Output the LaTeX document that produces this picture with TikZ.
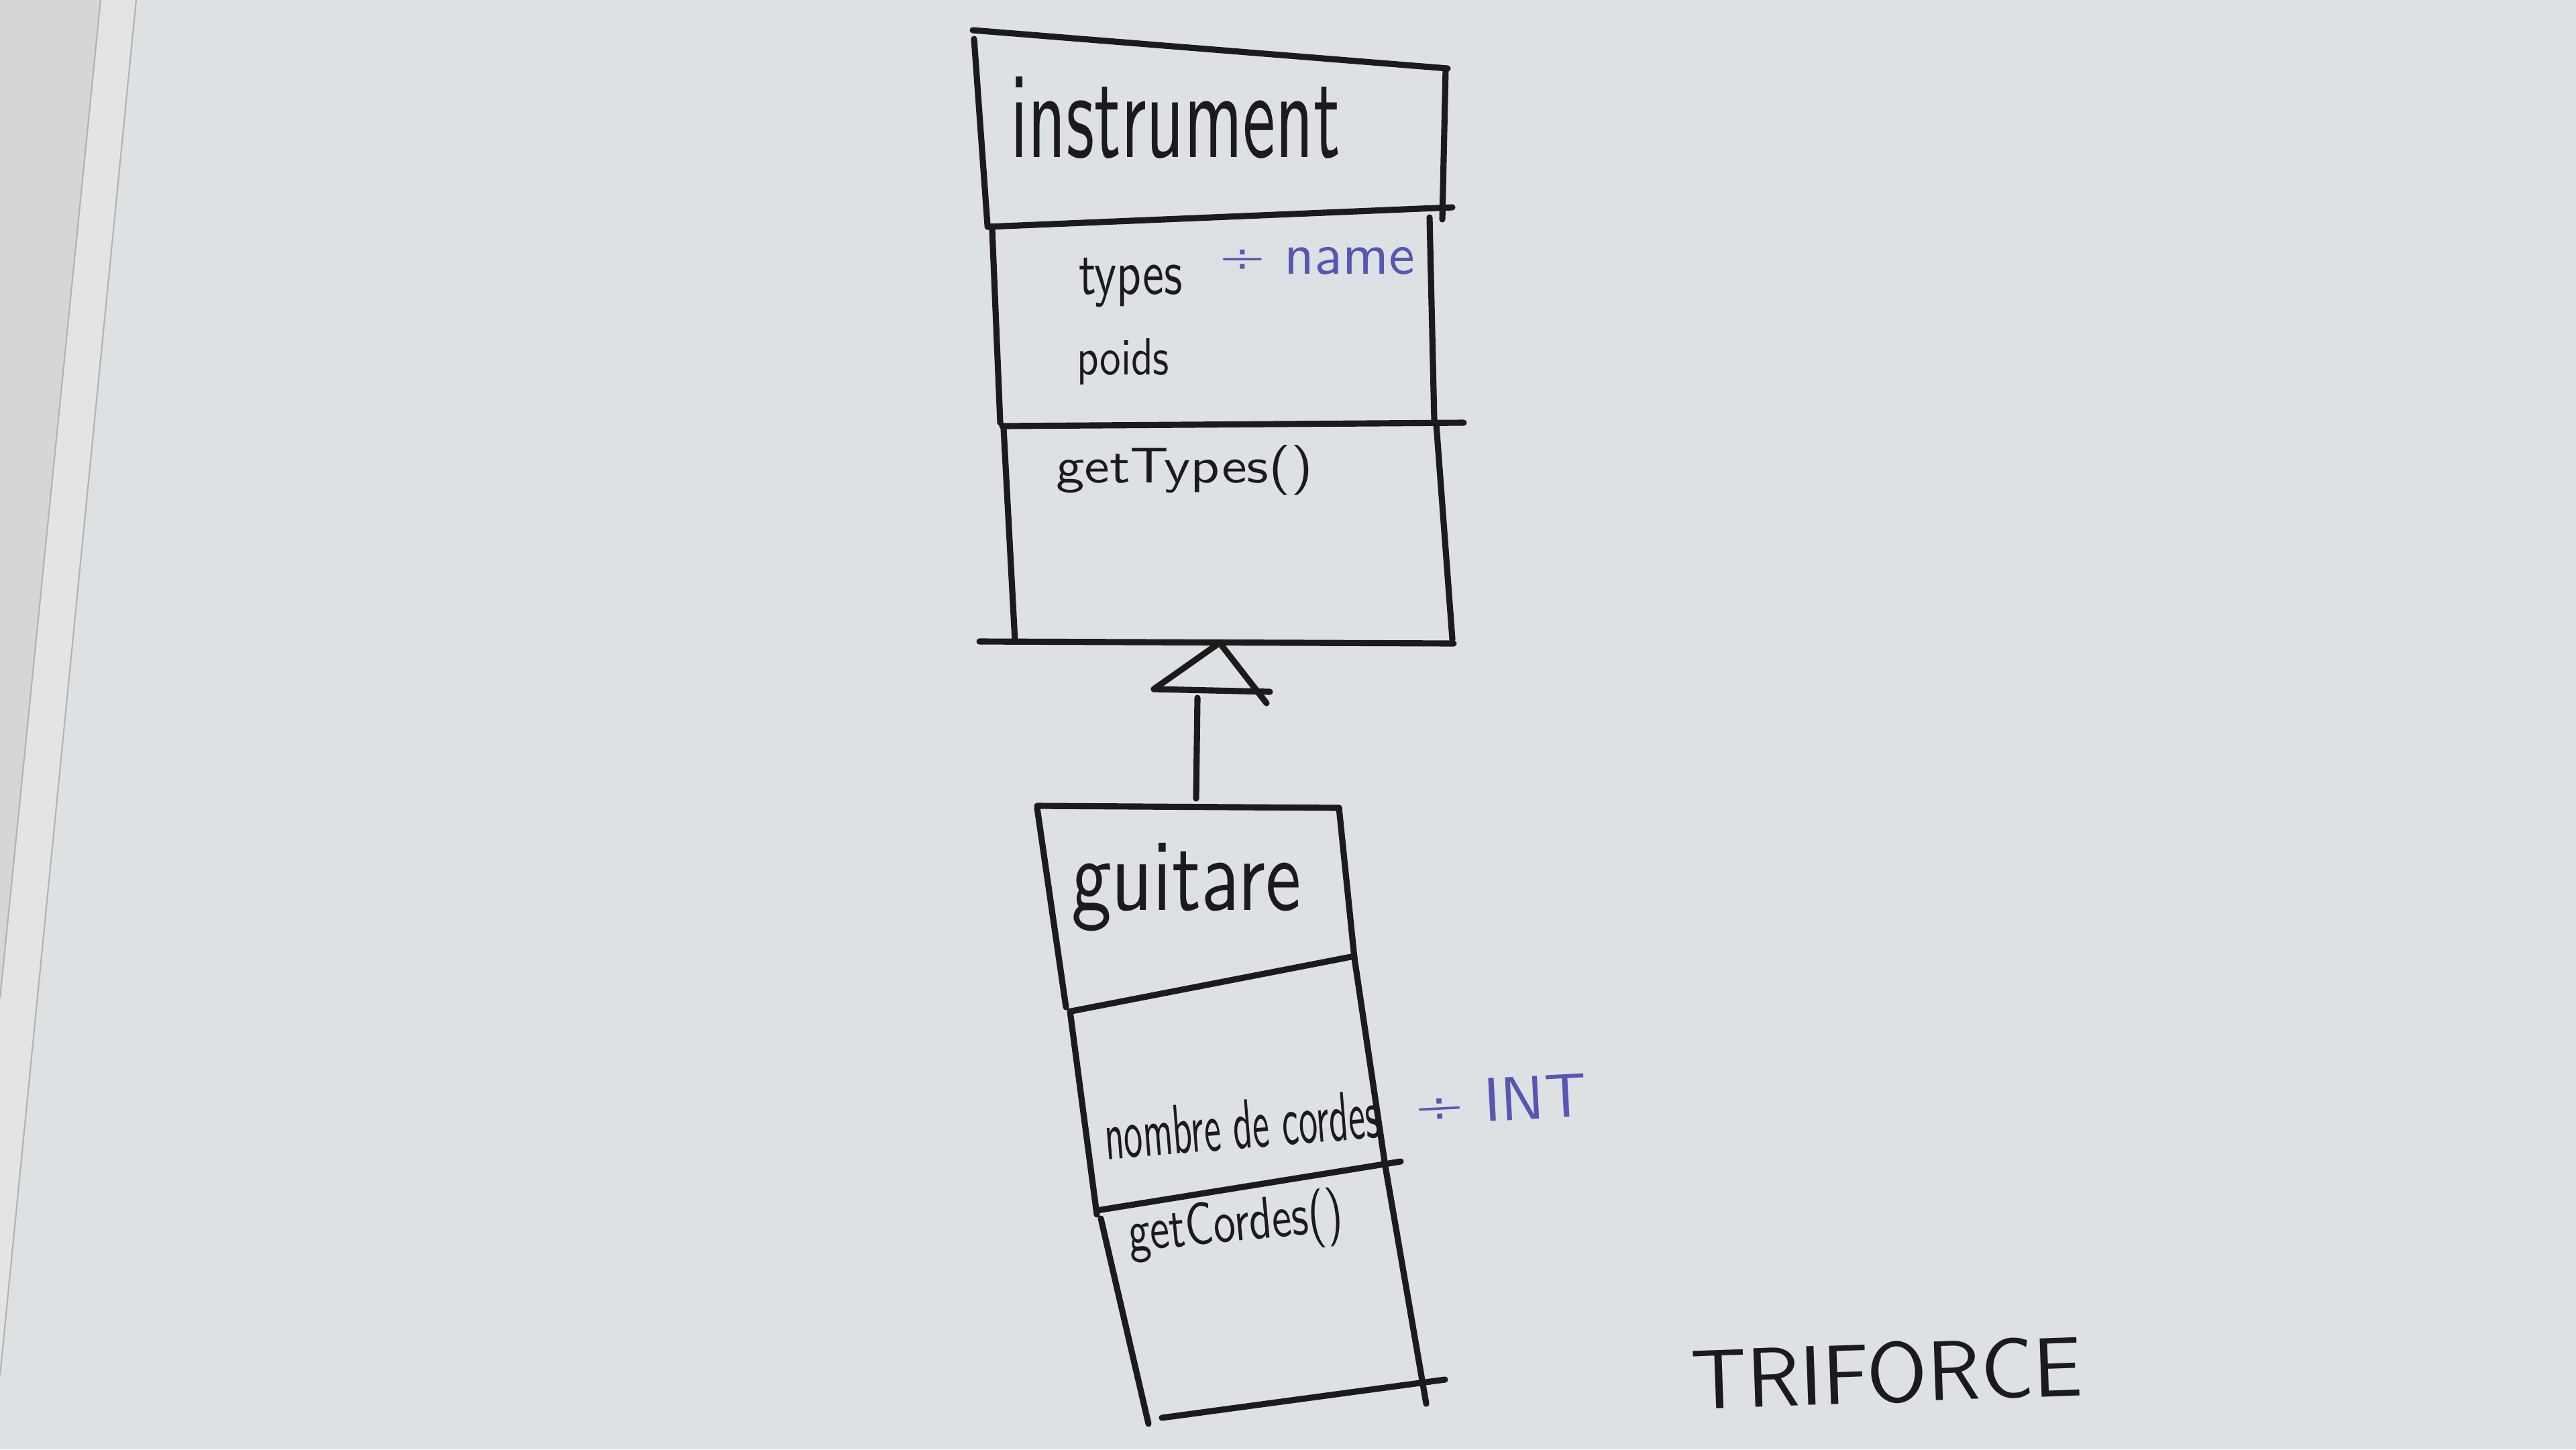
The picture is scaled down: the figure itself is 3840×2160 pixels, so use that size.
\documentclass[tikz,border=0pt]{standalone}
\usepackage{fontspec}
\usepackage{graphicx}
\definecolor{board}{RGB}{222,225,227}
\definecolor{leftc}{RGB}{214,214,212}
\definecolor{stripc}{RGB}{228,229,226}
\definecolor{inkc}{RGB}{28,26,28}
\definecolor{bluec}{RGB}{88,86,178}
\newcommand{\hw}[3]{\resizebox{#1}{#2}{#3}}
\begin{document}
\begin{tikzpicture}[x=0.01cm,y=-0.01cm,
  ink/.style={draw=inkc, line width=2.6pt, line cap=round, line join=round},
  lbl/.style={anchor=base west, inner sep=0pt, outer sep=0pt, text=inkc, font=\sffamily},
  bluelbl/.style={lbl, text=bluec},
  edgeline/.style={draw=black!30, line width=0.6pt}]
% background (whiteboard)
\fill[board] (0,0) rectangle (3840,2160);
\useasboundingbox (0,0) rectangle (3840,2160);
\fill[leftc] (0,0) -- (150,0) -- (0,1488) -- cycle;
\fill[stripc] (150,0) -- (203,0) -- (0,2050) -- (0,1488) -- cycle;
\draw[edgeline] (150,0) -- (0,1488);
\draw[edgeline] (203,0) -- (0,2050);

% ---- class instrument ----
\draw[ink] (1450,45) -- (2158,102);
\draw[ink] (1452,58) -- (1472,336);
\draw[ink] (2155,102) -- (2150,327);
\draw[ink] (1472,338) -- (2165,309);
\draw[ink] (1479,342) -- (1491,630);
\draw[ink] (2131,324) -- (2138,627);
\draw[ink] (1494,635) -- (2182,630);
\draw[ink] (1496,638) -- (1513,956);
\draw[ink] (2141,632) -- (2165,953);
\draw[ink] (1460,956) -- (2167,959);

\node[lbl] (instName) at (1506,234) {\hw{4.92cm}{1.2cm}{instrument}};
\node[lbl] (attrTypes) at (1608,438) {\hw{1.55cm}{0.54cm}{types}};
\node[bluelbl] (attrTypesT) at (1818,408) {\hw{2.91cm}{!}{÷ name}};
\node[lbl] (attrPoids) at (1605,558) {\hw{1.38cm}{0.54cm}{poids}};
\node[lbl] (opGetTypes) at (1574,719) {\hw{3.83cm}{0.56cm}{getTypes()}};

% ---- class guitare ----
\draw[ink] (1546,1201) -- (1996,1204);
\draw[ink] (1546,1204) -- (1589,1501);
\draw[ink] (1996,1204) -- (2019,1428);
\draw[ink] (1597,1507) -- (2019,1425);
\draw[ink] (1595,1507) -- (1635,1810);
\draw[ink] (2019,1428) -- (2065,1738) -- (2126,2092);
\draw[ink] (1635,1804) -- (2088,1731);
\draw[ink] (1641,1816) -- (1712,2122);
\draw[ink] (1732,2113) -- (2154,2056);

\node[lbl] (guitName) at (1597,1356) {\hw{3.42cm}{1.0cm}{guitare}};
\node[lbl, rotate=4.6] (attrCordes) at (1649,1728) {\hw{4.11cm}{0.72cm}{nombre de cordes}};
\node[bluelbl, rotate=3] (attrCordesT) at (2111,1677) {\hw{2.56cm}{!}{÷ INT}};
\node[lbl, rotate=5.5] (opGetCordes) at (1684,1865) {\hw{3.21cm}{0.66cm}{getCordes()}};

% ---- generalisation connector ----
\coordinate (gTop) at (1783,1190);
\coordinate (stemTop) at (1785,1040);
\coordinate (triApex) at (1818,958);
\coordinate (triL) at (1720,1027);
\coordinate (triR) at (1893,1031);
\coordinate (triRx) at (1888,1048);
\draw[ink] (gTop) -- (stemTop);
\draw[ink] (triL) -- (triApex) -- (triRx);
\draw[ink] (triL) -- (triR);

% ---- label ----
\node[lbl, rotate=2] (triforce) at (2522,2100) {\hw{5.83cm}{0.9cm}{TRIFORCE}};
\end{tikzpicture}
\end{document}
